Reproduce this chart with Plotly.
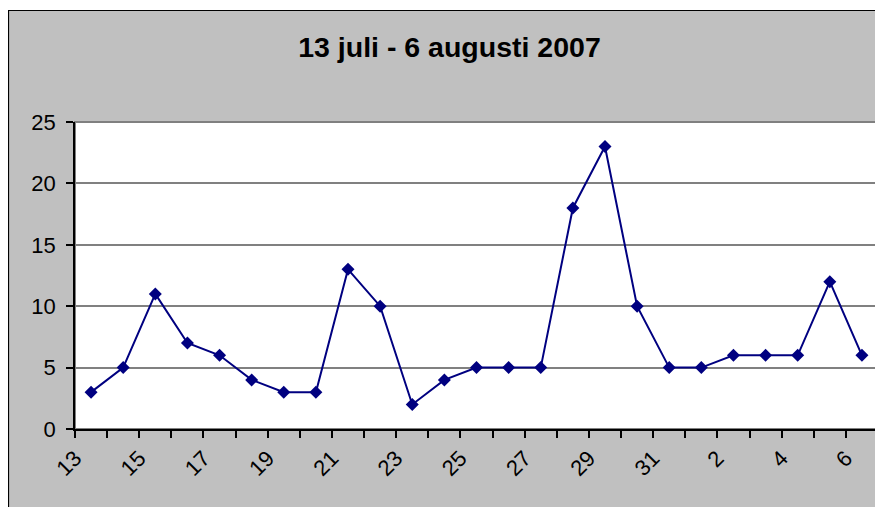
import plotly.graph_objects as go

days = [13, 14, 15, 16, 17, 18, 19, 20, 21, 22, 23, 24, 25, 26, 27, 28, 29, 30, 31,
        1, 2, 3, 4, 5, 6]
counts = [3, 5, 11, 7, 6, 4, 3, 3, 13, 10, 2, 4, 5, 5, 5, 18, 23, 10, 5, 5, 6, 6, 6, 12, 6]
title_text = "13 juli - 6 augusti 2007"

W, H = 883, 507
L, R, T, B = 67, 13, 114, 86
pw, ph = W - L - R, H - T - B

xs = list(range(len(days)))
label_idx = xs[::2]
label_txt = [str(days[i]) for i in label_idx]

FONT = "Liberation Sans, Arial, sans-serif"

fig = go.Figure()
fig.add_trace(go.Scatter(
    x=xs, y=counts, mode="lines+markers",
    line=dict(color="#000080", width=2),
    marker=dict(symbol="diamond", size=10, color="#000080"),
    cliponaxis=False, showlegend=False,
))

def px_x(p):
    return (p - L) / pw

def px_y(p):
    return (H - B - p) / ph

shapes = [
    # thin white strip above the chart border
    dict(type="rect", xref="paper", yref="paper", x0=px_x(-10), x1=px_x(W + 10), y0=px_y(2), y1=px_y(-10),
         fillcolor="white", line=dict(width=0), layer="below"),
    # chart border
    dict(type="rect", xref="paper", yref="paper", x0=px_x(0.5), x1=px_x(W + 20), y0=px_y(H + 20), y1=px_y(2.5),
         fillcolor="rgba(0,0,0,0)", line=dict(color="black", width=1.2), layer="above"),
    # plot area border (gray)
    dict(type="rect", xref="paper", yref="paper", x0=0, x1=1, y0=0, y1=1,
         fillcolor="rgba(0,0,0,0)", line=dict(color="#808080", width=2), layer="below"),
]

fig.update_layout(
    width=W, height=H,
    margin=dict(l=L, r=R, t=T, b=B),
    paper_bgcolor="#C0C0C0",
    plot_bgcolor="white",
    font=dict(family=FONT, color="black", size=22),
    title=dict(text="<b>" + title_text + "</b>", x=0.5, xref="container", xanchor="center",
               y=1 - 39 / H, yanchor="middle", font=dict(size=28.5, family=FONT, color="black")),
    shapes=shapes,
    xaxis=dict(
        range=[-0.5, len(days) - 0.5],
        tickmode="array", tickvals=label_idx, ticktext=label_txt,
        tickangle=-45, ticks="", showgrid=False, zeroline=False,
        showline=True, linecolor="black", linewidth=1.5,
        tickfont=dict(size=22, family=FONT),
        ticklabelshift=-16, ticklabelstandoff=6,
        minor=dict(ticks="outside", tick0=-0.5, dtick=1, ticklen=7, tickcolor="black",
                   tickwidth=1.5, showgrid=False),
    ),
    yaxis=dict(
        range=[0, 25], dtick=5, tick0=0,
        ticks="outside", ticklen=7, tickcolor="black", tickwidth=1.5,
        showgrid=True, gridcolor="#808080", gridwidth=1.5, zeroline=False,
        showline=True, linecolor="black", linewidth=1.5,
        tickfont=dict(size=22, family=FONT), ticklabelstandoff=6,
    ),
)

fig.write_html("out.html")
